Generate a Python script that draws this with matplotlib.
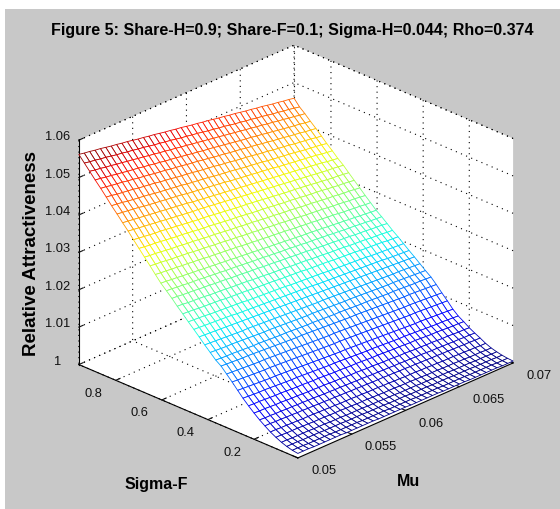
import numpy as np
import matplotlib
matplotlib.use("Agg")
import matplotlib.pyplot as plt
from matplotlib.patches import Rectangle

plt.rcParams["font.family"] = ["Liberation Sans", "DejaVu Sans"]

title = "Figure 5: Share-H=0.9; Share-F=0.1; Sigma-H=0.044; Rho=0.374"
mu_ticks = [0.05, 0.055, 0.06, 0.065, 0.07]
mu_labels = ["0.05", "0.055", "0.06", "0.065", "0.07"]
sigma_ticks = [0.2, 0.4, 0.6, 0.8]
sigma_labels = ["0.2", "0.4", "0.6", "0.8"]
z_ticks = [1, 1.01, 1.02, 1.03, 1.04, 1.05, 1.06]
z_labels = ["1", "1.01", "1.02", "1.03", "1.04", "1.05", "1.06"]

mu = [0.05, 0.0505, 0.051, 0.0515, 0.052, 0.0525, 0.053, 0.0535, 0.054, 0.0545,
      0.055, 0.0555, 0.056, 0.0565, 0.057, 0.0575, 0.058, 0.0585, 0.059, 0.0595,
      0.06, 0.0605, 0.061, 0.0615, 0.062, 0.0625, 0.063, 0.0635, 0.064, 0.0645,
      0.065, 0.0655, 0.066, 0.0665, 0.067, 0.0675, 0.068, 0.0685, 0.069, 0.0695, 0.07]
sigma = [0.010, 0.034, 0.058, 0.081, 0.105, 0.129, 0.153, 0.176, 0.200, 0.224,
         0.248, 0.271, 0.295, 0.319, 0.343, 0.366, 0.390, 0.414, 0.438, 0.461,
         0.485, 0.509, 0.533, 0.556, 0.580, 0.604, 0.628, 0.651, 0.675, 0.699,
         0.723, 0.746, 0.770, 0.794, 0.818, 0.841, 0.865, 0.889, 0.913, 0.936, 0.960]

# height above 1, in units of 0.0001, one row per sigma, one column per mu
height = [
    [12,12,12,11,11,11,11,11,11,10, 10,10,10,10,10,9,9,9,9,9, 9,8,8,8,8,8,8,7,7,7, 7,7,6,6,6,6,6,6,5,5, 5],
    [14,14,14,13,13,13,13,13,12,12, 12,12,12,11,11,11,11,11,10,10, 10,10,10,9,9,9,9,9,8,8, 8,8,8,7,7,7,7,7,6,6, 6],
    [18,18,18,17,17,17,17,16,16,16, 16,15,15,15,15,14,14,14,14,13, 13,13,13,12,12,12,12,11,11,11, 11,10,10,10,10,9,9,9,9,8, 8],
    [23,23,22,22,22,22,21,21,21,20, 20,20,19,19,19,19,18,18,18,17, 17,17,16,16,16,16,15,15,15,14, 14,14,13,13,13,13,12,12,12,11, 11],
    [30,30,29,29,29,28,28,27,27,27, 26,26,26,25,25,24,24,24,23,23, 22,22,22,21,21,21,20,20,19,19, 19,18,18,18,17,17,16,16,16,15, 15],
    [38,38,37,37,36,36,35,35,35,34, 34,33,33,32,32,32,31,31,30,30, 30,29,29,28,28,27,27,27,26,26, 25,25,24,24,24,23,23,22,22,21, 21],
    [48,48,47,47,46,46,45,45,44,44, 43,43,42,42,41,41,40,40,39,39, 38,38,38,37,37,36,36,35,35,34, 34,33,33,32,32,31,31,30,30,29, 29],
    [58,57,57,56,56,55,55,54,54,53, 53,52,51,51,50,50,49,49,48,48, 47,46,46,45,45,44,44,43,43,42, 42,41,40,40,39,39,38,38,37,37, 36],
    [70,69,69,68,67,67,66,65,65,64, 63,63,62,62,61,60,60,59,58,58, 57,56,56,55,54,54,53,52,52,51, 50,50,49,49,48,47,47,46,45,45, 44],
    [83,82,82,81,80,79,79,78,77,76, 76,75,74,74,73,72,71,71,70,69, 69,68,67,66,66,65,64,63,63,62, 61,61,60,59,58,58,57,56,55,55, 54],
    [97,96,95,94,94,93,92,91,90,89, 89,88,87,86,85,84,83,83,82,81, 80,79,78,77,77,76,75,74,73,72, 72,71,70,69,68,67,66,66,65,64, 63],
    [112,111,110,109,108,107,106,106,105,104, 103,102,101,100,99,98,97,96,95,94, 94,93,92,91,90,89,88,87,86,85, 84,83,82,81,81,80,79,78,77,76, 75],
    [128,127,126,125,124,123,122,122,121,120, 119,118,117,116,115,114,113,112,111,110, 110,109,108,107,106,105,104,103,102,101, 100,99,98,97,97,96,95,94,93,92, 91],
    [143,142,141,140,139,138,137,137,136,135, 134,133,132,131,130,129,128,127,126,125, 125,124,123,122,121,120,119,118,117,116, 115,114,113,112,112,111,110,109,108,107, 106],
    [158,157,156,155,154,154,153,152,151,150, 149,148,147,146,145,145,144,143,142,141, 140,139,138,137,136,136,135,134,133,132, 131,130,129,128,127,127,126,125,124,123, 122],
    [168,167,166,166,165,164,163,162,162,161, 160,159,158,158,157,156,155,154,154,153, 152,151,150,150,149,148,147,146,146,145, 144,143,142,142,141,140,139,138,138,137, 136],
    [182,181,180,179,179,178,177,176,175,174, 173,173,172,171,170,169,168,167,166,166, 165,164,163,162,161,160,160,159,158,157, 156,155,154,153,153,152,151,150,149,148, 147],
    [196,195,194,193,192,191,190,189,189,188, 187,186,185,184,183,182,181,180,179,178, 177,176,176,175,174,173,172,171,170,169, 168,167,166,165,164,163,163,162,161,160, 159],
    [211,210,209,208,207,206,205,204,203,202, 201,200,199,198,197,196,195,194,193,192, 191,190,189,188,187,186,185,184,183,182, 181,180,179,178,177,176,175,174,173,172, 171],
    [225,224,223,222,221,220,219,218,216,215, 214,213,212,211,210,209,208,207,206,205, 204,203,202,200,199,198,197,196,195,194, 193,192,191,190,189,188,186,185,184,183, 182],
    [239,238,237,236,234,233,232,231,230,229, 228,226,225,224,223,222,221,220,219,217, 216,215,214,213,212,211,209,208,207,206, 205,204,203,202,200,199,198,197,196,195, 194],
    [254,253,252,250,249,248,247,246,244,243, 242,241,240,238,237,236,235,234,232,231, 230,229,228,226,225,224,223,222,220,219, 218,217,216,214,213,212,211,210,208,207, 206],
    [268,267,265,264,263,262,260,259,258,257, 255,254,253,252,250,249,248,246,245,244, 243,241,240,239,238,236,235,234,232,231, 230,229,227,226,225,224,222,221,220,218, 217],
    [283,282,280,279,278,276,275,274,272,271, 270,268,267,266,264,263,262,260,259,258, 256,255,254,252,251,250,248,247,245,244, 243,241,240,239,237,236,235,233,232,231, 229],
    [297,296,294,293,291,290,289,287,286,284, 283,281,280,279,277,276,274,273,272,270, 269,267,266,265,263,262,260,259,258,256, 255,253,252,250,249,248,246,245,243,242, 241],
    [311,310,308,307,305,304,302,301,299,298, 296,295,293,292,290,289,287,286,284,283, 281,280,278,277,275,274,272,271,270,268, 267,265,264,262,261,259,258,256,255,253, 252],
    [328,326,325,323,322,320,319,317,316,314, 312,311,309,308,306,305,303,301,300,298, 297,295,294,292,291,289,287,286,284,283, 281,280,278,277,275,273,272,270,269,267, 266],
    [345,343,342,340,338,337,335,334,332,330, 329,327,325,324,322,320,319,317,315,314, 312,311,309,307,306,304,302,301,299,297, 296,294,293,291,289,288,286,284,283,281, 279],
    [362,360,359,357,355,353,352,350,348,347, 345,343,341,340,338,336,334,333,331,329, 328,326,324,322,321,319,317,316,314,312, 310,309,307,305,303,302,300,298,297,295, 293],
    [379,377,375,374,372,370,368,366,365,363, 361,359,357,356,354,352,350,348,347,345, 343,341,339,338,336,334,332,330,329,327, 325,323,321,320,318,316,314,312,311,309, 307],
    [396,394,392,390,388,387,385,383,381,379, 377,375,373,372,370,368,366,364,362,360, 358,357,355,353,351,349,347,345,343,341, 340,338,336,334,332,330,328,326,325,323, 321],
    [413,411,409,407,405,403,401,399,397,395, 393,391,389,388,386,384,382,380,378,376, 374,372,370,368,366,364,362,360,358,356, 354,352,350,348,346,344,342,340,339,337, 335],
    [429,427,425,423,421,419,417,415,413,411, 409,407,405,402,400,398,396,394,392,390, 388,386,384,382,380,378,376,374,372,370, 368,366,364,362,360,358,356,354,351,349, 347],
    [446,444,442,440,438,435,433,431,429,427, 425,423,421,418,416,414,412,410,408,406, 404,401,399,397,395,393,391,389,387,385, 382,380,378,376,374,372,370,368,365,363, 361],
    [462,460,458,455,453,451,449,447,444,442, 440,438,436,434,431,429,427,425,423,420, 418,416,414,412,409,407,405,403,401,398, 396,394,392,390,388,385,383,381,379,377, 374],
    [479,477,474,472,470,468,465,463,461,459, 456,454,452,449,447,445,443,440,438,436, 434,431,429,427,424,422,420,418,415,413, 411,408,406,404,402,399,397,395,393,390, 388],
    [496,494,491,489,487,484,482,479,477,475, 472,470,468,465,463,461,458,456,454,451, 449,446,444,442,439,437,435,432,430,428, 425,423,420,418,416,413,411,409,406,404, 402],
    [512,510,507,505,502,500,497,495,493,490, 488,485,483,480,478,476,473,471,468,466, 463,461,459,456,454,451,449,446,444,442, 439,437,434,432,429,427,424,422,420,417, 415],
    [529,526,524,521,519,516,514,511,509,506, 504,501,499,496,494,491,489,486,484,481, 479,476,474,471,469,466,464,461,459,456, 454,451,449,446,444,441,439,436,434,431, 429],
    [545,542,540,537,535,532,529,527,524,522, 519,517,514,511,509,506,504,501,498,496, 493,491,488,485,483,480,478,475,472,470, 467,465,462,460,457,454,452,449,447,444, 441],
    [562,559,557,554,552,549,546,544,541,539, 536,533,531,528,526,523,520,518,515,513, 510,507,505,502,500,497,494,492,489,487, 484,481,479,476,474,471,468,466,463,461, 458],
]

W, H = 560, 509
GRAY = "#c8c8c8"
DOTS = (0, (1, 4))


def px(x, y):
    return x / W, 1 - y / H


fig = plt.figure(figsize=(W / 100, H / 100), dpi=100, facecolor="white")
fig.patches.append(Rectangle((5 / W, 0), 1, 1 - 9 / H, transform=fig.transFigure,
                             facecolor=GRAY, edgecolor="none", zorder=-5))

ax = fig.add_axes([46.4 / W, 7.9 / H, 486 / W, 486 / H], projection="3d",
                  proj_type="ortho", facecolor="none")
ax.set_box_aspect((307, 307, 249))
ax.view_init(elev=25.7, azim=-135.5)
ax.computed_zorder = False

x0, x1 = mu[0], mu[-1]
y0, y1 = sigma[0], sigma[-1]
z0, z1 = z_ticks[0], z_ticks[-1]
ax.set_xlim(x0, x1, view_margin=0)
ax.set_ylim(y0, y1, view_margin=0)
ax.set_zlim(z0, z1, view_margin=0)

# outline of the back walls and floor
for z in (z0, z1):
    ax.plot([x0, x1, x1], [y1, y1, y0], [z, z, z], color="black", lw=0.8, ls=DOTS, zorder=1)
ax.plot([x1, x1], [y1, y1], [z0, z1], color="black", lw=0.8, ls=DOTS, zorder=1)

X, Y = np.meshgrid(mu, sigma)
Z = 1 + np.array(height) / 10000

surf = ax.plot_surface(X, Y, Z, rstride=1, cstride=1, color="white", shade=False,
                       linewidth=0.6, antialiased=True, zorder=5)
face_z = (Z[:-1, :-1] + Z[1:, :-1] + Z[:-1, 1:] + Z[1:, 1:]) / 4
surf.set_edgecolor(plt.cm.jet((face_z - Z.min()) / (Z.max() - Z.min())).reshape(-1, 4))

ax.set_xticks(mu_ticks, mu_labels)
ax.set_yticks(sigma_ticks, sigma_labels)
ax.set_zticks(z_ticks, z_labels)
ax.tick_params(labelsize=9.3, colors="#111111", pad=1)
ax.xaxis.set_tick_params(pad=3)
ax.yaxis.set_tick_params(pad=3)

for lab in ax.get_xticklabels():
    lab.set(ha="left", va="bottom")
for lab in ax.get_yticklabels():
    lab.set(ha="right", va="bottom")
for lab in ax.get_zticklabels():
    lab.set(va="baseline")

for axis in (ax.xaxis, ax.yaxis, ax.zaxis):
    axis.set_pane_color("white")
    axis.pane.set_edgecolor("none")
    axis.line.set_color("black")
    axis._axinfo["grid"].update(color="black", linestyle=DOTS, linewidth=0.8)
    axis._axinfo["tick"].update(inward_factor=0, outward_factor=0.25)

fig.text(*px(292, 30), title, ha="center", va="center", fontsize=11.5, fontweight="bold")
fig.text(*px(32, 254), "Relative Attractiveness", rotation=90, ha="center", va="center",
         fontsize=13.5, fontweight="bold")
fig.text(*px(156, 484), "Sigma-F", ha="center", va="center", fontsize=11.5, fontweight="bold")
fig.text(*px(409, 482), "Mu", ha="center", va="center", fontsize=11.5, fontweight="bold")

fig.savefig("out.png", dpi=100, facecolor=fig.get_facecolor())
